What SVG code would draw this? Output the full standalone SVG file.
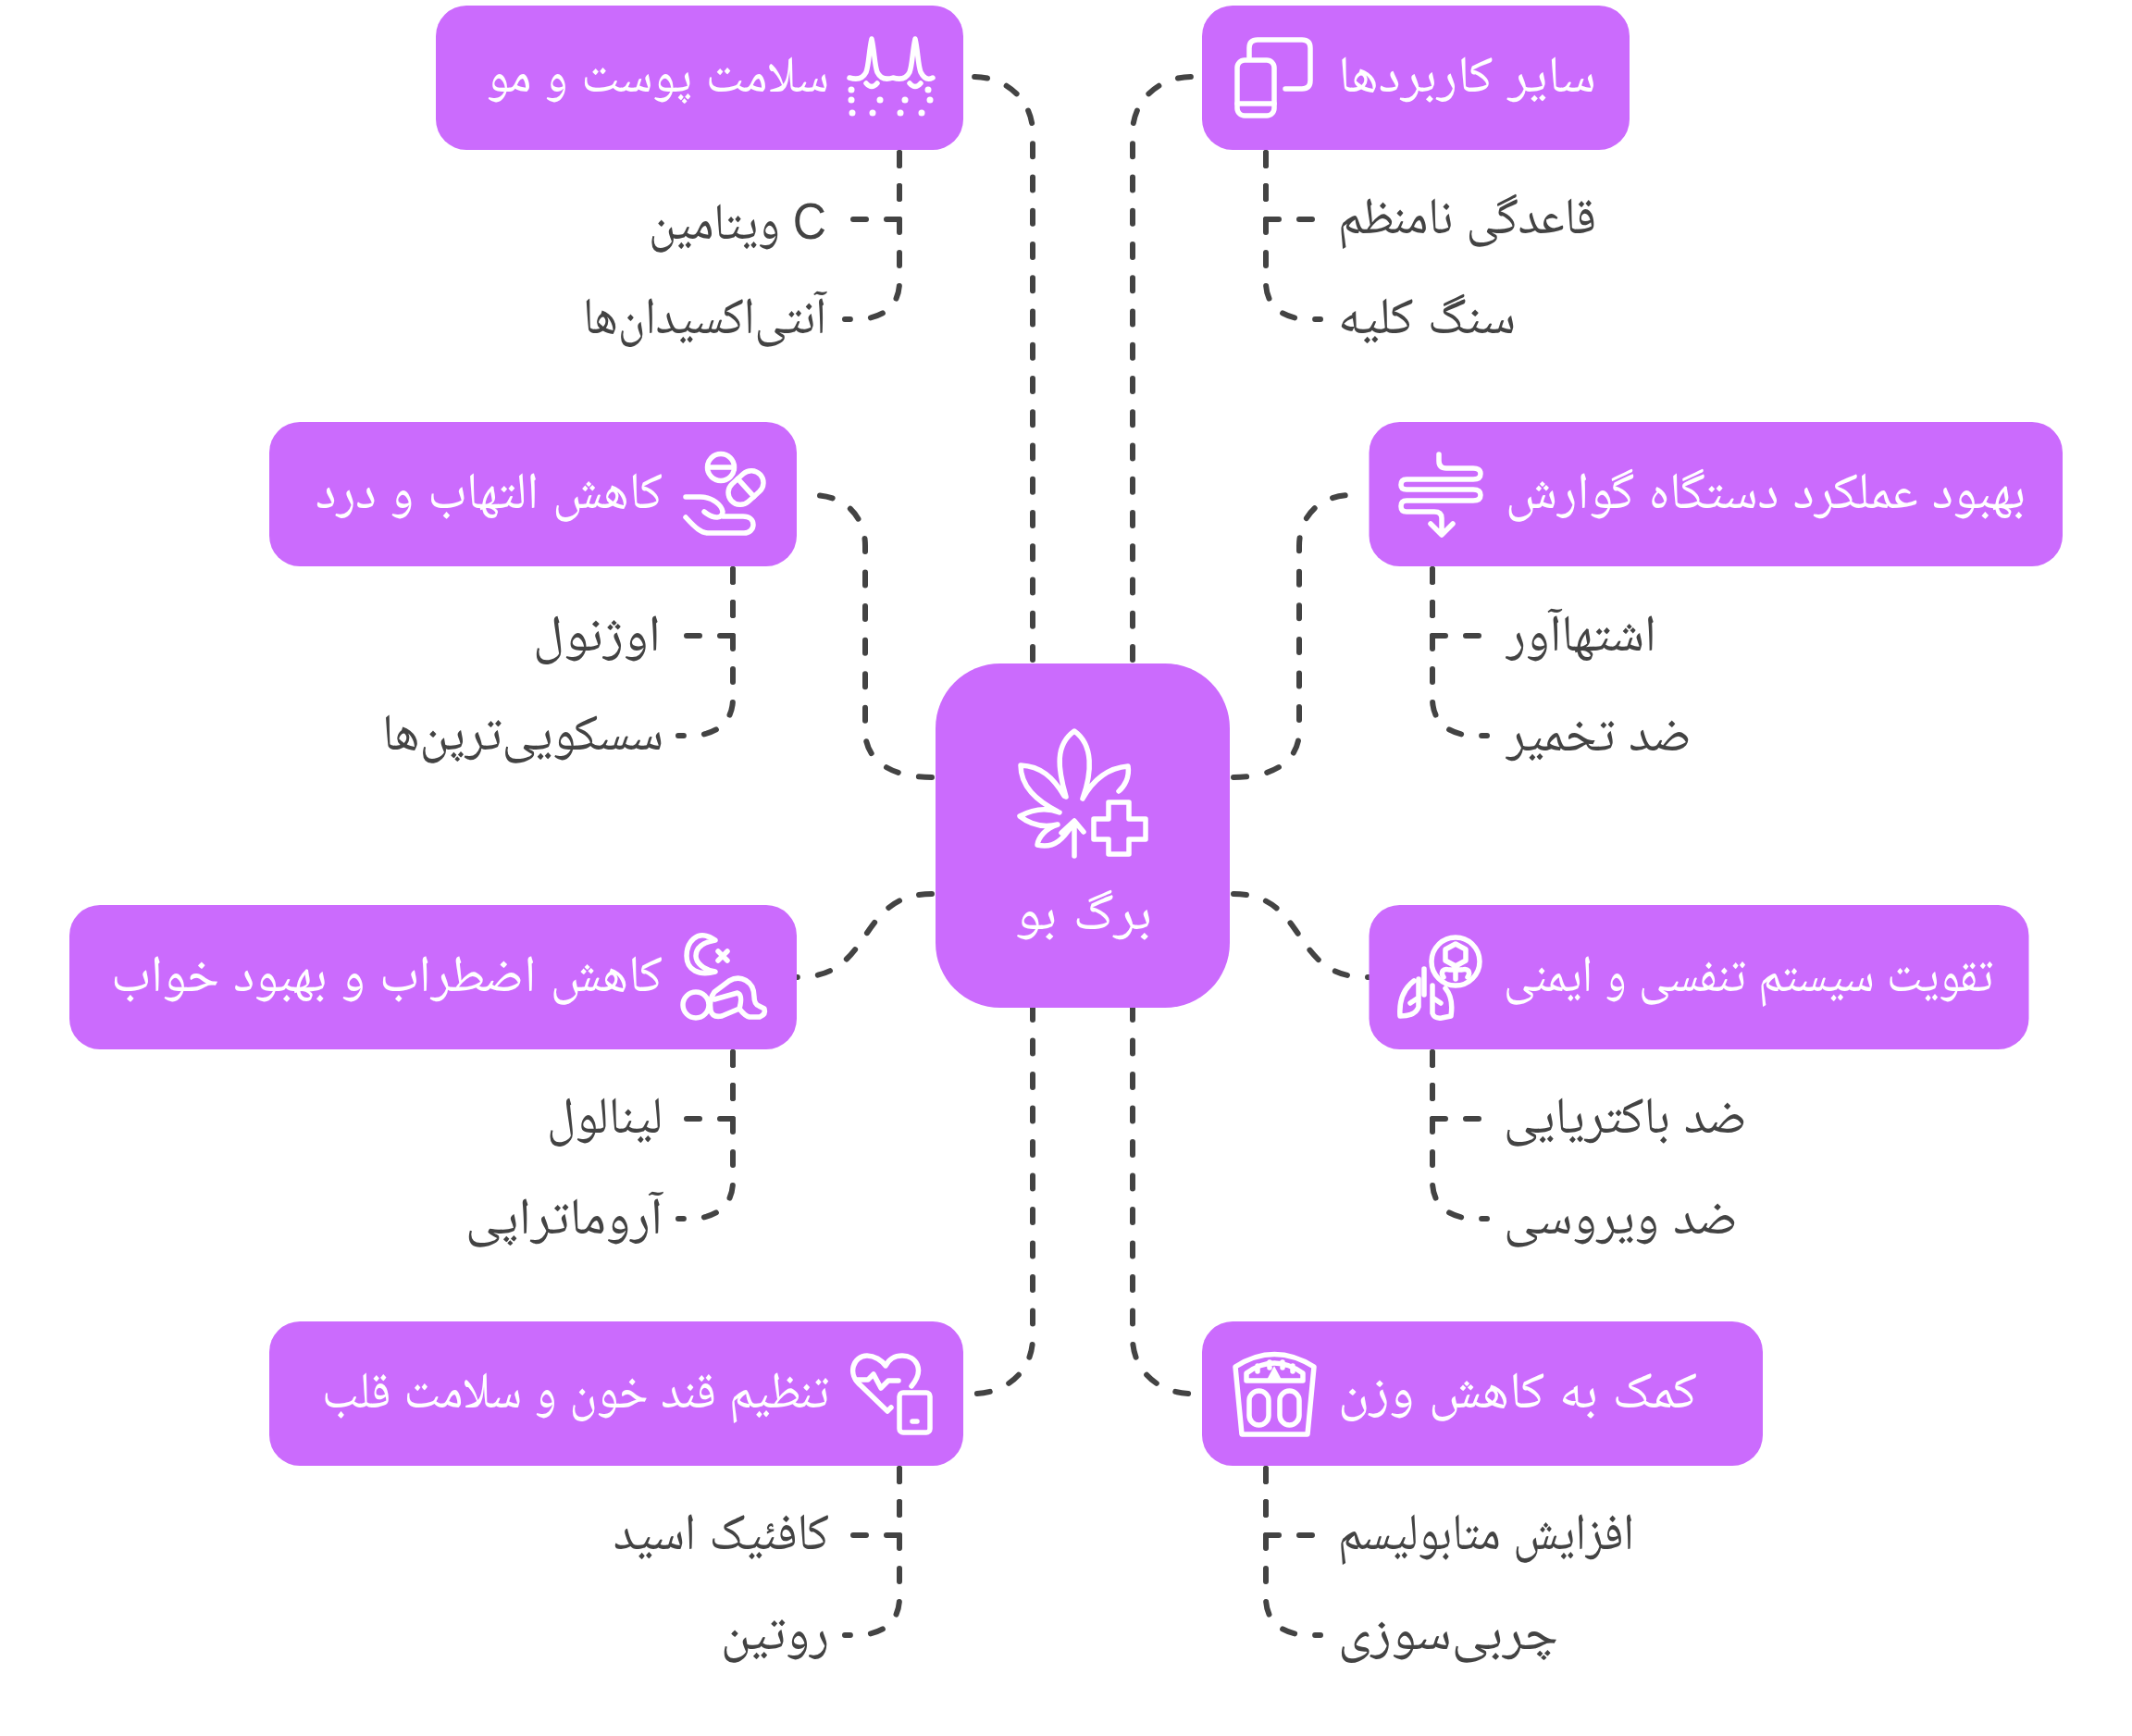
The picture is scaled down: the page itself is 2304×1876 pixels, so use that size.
<svg xmlns="http://www.w3.org/2000/svg" width="2304" height="1876" viewBox="0 0 2304 1876">
<style>
.box{fill:#cb6bfd}
.t{font-family:"Liberation Sans","Noto Naskh Arabic",sans-serif;font-size:56px;text-anchor:start}
.w{fill:#fff}
.d{fill:#434343}
.ic{fill:none;stroke:#fff;stroke-width:5.5;stroke-linecap:round;stroke-linejoin:round}
.dot{fill:#fff}
.cn{fill:none;stroke:#434343;stroke-width:6;stroke-linecap:round;stroke-dasharray:14 22}
.cv{stroke-dasharray:14 22.25}
.cb{stroke-dasharray:14 22.5}
.cp{stroke-dasharray:14 22.55}
</style>
<defs>
<g id="kidsL"><path class="cn" d="M0,3V75H-54"/><path class="cn" d="M0,3V143C0,168 -17,183 -47,183H-59"/></g>
<g id="kidsR"><path class="cn" d="M0,3V75H54"/><path class="cn" d="M0,3V143C0,168 17,183 47,183H59"/></g>
</defs>
<rect width="2304" height="1876" fill="#fff"/>
<g id="connectors">
<path class="cn cv" d="M1116,713V143C1116,110 1089,83 1052,83"/>
<path class="cn cv" d="M1224,713V143C1224,110 1251,83 1288,83"/>
<path class="cn cp" d="M1007,840C960,840 935,820 935,790V590C935,560 915,535 878,535"/>
<path class="cn cp" d="M1333,840C1380,840 1404,820 1404,790V590C1404,560 1424,535 1461,535"/>
<path class="cn" d="M1007,966C925,966 945,1056 863,1056H856"/>
<path class="cn" d="M1333,966C1414,966 1394,1056 1476,1056H1484"/>
<path class="cn cb" d="M1116,1088V1446C1116,1480 1089,1506 1052,1506"/>
<path class="cn cb" d="M1224,1088V1446C1224,1480 1251,1506 1288,1506"/>
<use href="#kidsL" x="972" y="162"/>
<use href="#kidsR" x="1368" y="162"/>
<use href="#kidsL" x="792" y="612"/>
<use href="#kidsR" x="1548" y="612"/>
<use href="#kidsL" x="792" y="1134"/>
<use href="#kidsR" x="1548" y="1134"/>
<use href="#kidsL" x="972" y="1584"/>
<use href="#kidsR" x="1368" y="1584"/>
</g>
<g id="center">
<rect class="box" x="1011" y="717" width="318" height="372" rx="70"/>
<path class="ic" d="M1152,861C1143,830 1140,805 1161,790C1182,805 1180,835 1170,863M1150,860C1138,840 1125,828 1103,827C1103,850 1120,865 1143,877M1170,863C1180,845 1195,830 1219,828C1221,840 1215,850 1209,855M1145,878C1130,872 1115,875 1102,882C1112,890 1125,895 1143,891C1130,895 1122,905 1121,913C1140,918 1150,905 1160,890M1161,925V888M1147,900L1161,887L1171,899"/>
<path class="ic" d="M1198,867H1220V885H1238V907H1220V923H1198V907H1182V885H1198Z"/>
<text class="t w" x="1097" y="1004" textLength="148" lengthAdjust="spacingAndGlyphs">برگ بو</text>
</g>
<g id="skin">
<rect class="box" x="471" y="6" width="570" height="156" rx="33"/>
<path class="ic" d="M918,84Q931,88 936,78C939,70 939,55 942,42C945,55 945,70 948,78Q953,88 965,84Q978,88 983,78C986,70 986,55 989,42C992,55 992,70 995,78Q1000,88 1008,84"/>
<path class="ic" d="M936,90Q942,97 948,90M983,90Q989,97 995,90"/>
<g class="dot"><circle cx="920" cy="97" r="3.5"/><circle cx="1003" cy="97" r="3.5"/><circle cx="920" cy="108" r="3.5"/><circle cx="951" cy="108" r="3.5"/><circle cx="978" cy="108" r="3.5"/><circle cx="1005" cy="108" r="3.5"/><circle cx="921" cy="122" r="3.5"/><circle cx="943" cy="122" r="3.5"/><circle cx="973" cy="122" r="3.5"/><circle cx="996" cy="122" r="3.5"/></g>
<text class="t w" x="526" y="99" textLength="370" lengthAdjust="spacingAndGlyphs">سلامت پوست و مو</text>
<text class="t d" x="701" y="258" textLength="192" lengthAdjust="spacingAndGlyphs">ویتامین C</text>
<text class="t d" x="630" y="360" textLength="263" lengthAdjust="spacingAndGlyphs">آنتی‌اکسیدان‌ها</text>
</g>
<g id="other">
<rect class="box" x="1299" y="6" width="462" height="156" rx="33"/>
<rect class="ic" x="1337" y="65" width="40" height="60" rx="8"/>
<path class="ic" d="M1337,112H1377M1350,62V52Q1350,43 1359,43H1407Q1416,43 1416,52V87Q1416,96 1407,96H1389"/>
<text class="t w" x="1446" y="99" textLength="279" lengthAdjust="spacingAndGlyphs">سایر کاربردها</text>
<text class="t d" x="1446" y="252" textLength="279" lengthAdjust="spacingAndGlyphs">قاعدگی نامنظم</text>
<text class="t d" x="1446" y="360" textLength="192" lengthAdjust="spacingAndGlyphs">سنگ کلیه</text>
</g>
<g id="pain">
<rect class="box" x="291" y="456" width="570" height="156" rx="33"/>
<circle class="ic" cx="779" cy="505" r="14.5"/><path class="ic" d="M765,505H793"/>
<g transform="rotate(-42 806 527)"><rect class="ic" x="785" y="514" width="42" height="26" rx="13"/><path class="ic" d="M806,514V540"/></g>
<path class="ic" d="M741,537H757C770,537 780,546 781,553C781,560 772,562 761,553M781,558H803C810,558 814,562 814,567C814,572 810,576 804,576H765C758,576 752,571 741,559"/>
<text class="t w" x="341" y="549" textLength="375" lengthAdjust="spacingAndGlyphs">کاهش التهاب و درد</text>
<text class="t d" x="576" y="703" textLength="138" lengthAdjust="spacingAndGlyphs">اوژنول</text>
<text class="t d" x="413" y="810" textLength="304" lengthAdjust="spacingAndGlyphs">سسکویی‌ترپن‌ها</text>
</g>
<g id="digest">
<rect class="box" x="1479.500" y="456" width="749.500" height="156" rx="33"/>
<path class="ic" d="M1555,491V498Q1555,506 1563,506H1592Q1600,506 1600,512Q1600,518 1592,518H1520Q1514,518 1514,524Q1514,529 1520,529H1592Q1600,529 1600,535Q1600,541 1592,541H1520Q1514,541 1514,547Q1514,553 1520,553H1550Q1558,553 1558,560V577M1546,566L1558,578L1570,566"/>
<text class="t w" x="1627" y="549" textLength="562" lengthAdjust="spacingAndGlyphs">بهبود عملکرد دستگاه گوارش</text>
<text class="t d" x="1628" y="703" textLength="162" lengthAdjust="spacingAndGlyphs">اشتهاآور</text>
<text class="t d" x="1628" y="811" textLength="200" lengthAdjust="spacingAndGlyphs">ضد تخمیر</text>
</g>
<g id="anxiety">
<rect class="box" x="75" y="978" width="786" height="156" rx="33"/>
<path class="ic" d="M773,1016C752,1002 742,1020 742,1033C742,1048 755,1055 773,1050C760,1048 752,1040 752,1033C752,1024 760,1018 773,1016Z"/>
<path class="ic" d="M776,1028L786,1038M786,1028L776,1038"/>
<circle class="ic" cx="752" cy="1086" r="14"/>
<path class="ic" d="M768,1092Q770,1100 780,1098L799,1090Q805,1098 810,1099L821,1099Q828,1096 826,1090L820,1087Q815,1085 815,1077C815,1060 800,1053 788,1060L772,1072Q766,1080 768,1092ZM772,1080L797,1073Q803,1075 799,1090"/>
<text class="t w" x="120" y="1071" textLength="596" lengthAdjust="spacingAndGlyphs">کاهش اضطراب و بهبود خواب</text>
<text class="t d" x="591" y="1224" textLength="125" lengthAdjust="spacingAndGlyphs">لینالول</text>
<text class="t d" x="503" y="1333" textLength="213" lengthAdjust="spacingAndGlyphs">آروماتراپی</text>
</g>
<g id="respiratory">
<rect class="box" x="1479.500" y="978" width="713" height="156" rx="33"/>
<circle class="ic" cx="1573" cy="1039" r="26"/>
<path class="ic" d="M1573,1020L1584,1026V1038L1573,1044L1562,1038V1026Z M1573,1050V1058M1560,1056C1556,1050 1560,1046 1566,1048H1580C1586,1046 1590,1050 1586,1056"/>
<path class="ic" d="M1539,1047V1075M1528,1060C1515,1070 1512,1085 1513,1098Q1530,1098 1533,1088V1058M1548,1065V1095Q1550,1101 1558,1100L1568,1098C1570,1085 1568,1075 1562,1068M1533,1078L1524,1084M1548,1078L1557,1084"/>
<text class="t w" x="1625" y="1071" textLength="529" lengthAdjust="spacingAndGlyphs">تقویت سیستم تنفسی و ایمنی</text>
<text class="t d" x="1625" y="1224" textLength="263" lengthAdjust="spacingAndGlyphs">ضد باکتریایی</text>
<text class="t d" x="1625" y="1333" textLength="253" lengthAdjust="spacingAndGlyphs">ضد ویروسی</text>
</g>
<g id="sugar">
<rect class="box" x="291" y="1428" width="750" height="156" rx="33"/>
<path class="ic" d="M985,1498C1000,1480 990,1465 975,1465C965,1465 960,1470 957,1476C953,1470 945,1465 937,1465C922,1465 915,1485 930,1497L959,1525L963,1521"/>
<path class="ic" d="M925,1491H938L944,1485L952,1500L960,1492H971"/>
<rect class="ic" x="972" y="1505" width="33" height="43" rx="4"/><path class="ic" d="M986,1536H991"/>
<text class="t w" x="348" y="1521" textLength="548" lengthAdjust="spacingAndGlyphs">تنظیم قند خون و سلامت قلب</text>
<text class="t d" x="663" y="1674" textLength="233" lengthAdjust="spacingAndGlyphs">کافئیک اسید</text>
<text class="t d" x="779" y="1782" textLength="117" lengthAdjust="spacingAndGlyphs">روتین</text>
</g>
<g id="weight">
<rect class="box" x="1299" y="1428" width="606" height="156" rx="33"/>
<path class="ic" d="M1335,1477Q1377,1450 1420,1477L1413,1550H1342Z"/>
<path class="ic" d="M1347,1492V1484Q1377,1462 1408,1484V1492ZM1359,1482V1476M1372,1478V1472M1386,1478V1472M1397,1482V1476"/>
<path class="dot" d="M1377,1476L1368,1493H1386Z"/>
<rect class="ic" x="1350" y="1503" width="21" height="37" rx="10.500"/><rect class="ic" x="1383" y="1503" width="21" height="37" rx="10.500"/>
<text class="t w" x="1446" y="1521" textLength="388" lengthAdjust="spacingAndGlyphs">کمک به کاهش وزن</text>
<text class="t d" x="1446" y="1674" textLength="320" lengthAdjust="spacingAndGlyphs">افزایش متابولیسم</text>
<text class="t d" x="1446" y="1782" textLength="238" lengthAdjust="spacingAndGlyphs">چربی‌سوزی</text>
</g>
</svg>
